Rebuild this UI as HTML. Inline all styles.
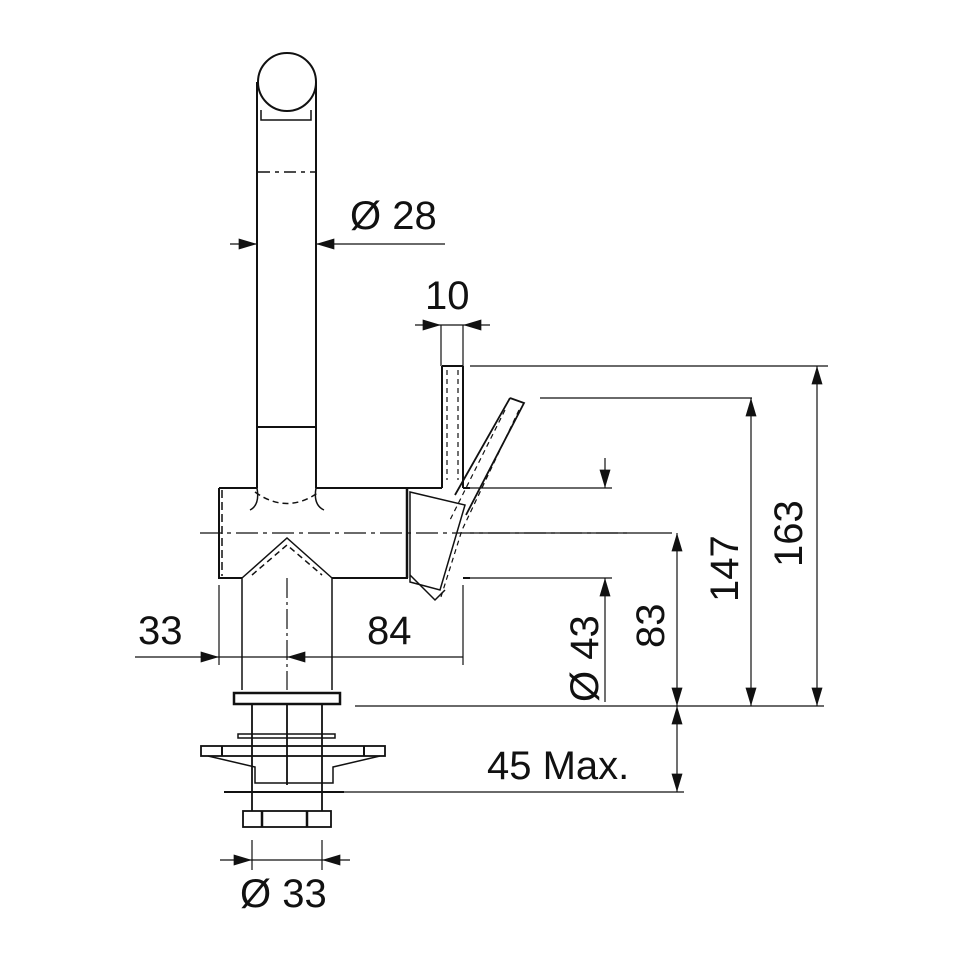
<!DOCTYPE html><html><head><style>body{margin:0;background:#fff}svg{display:block}text{font-family:"Liberation Sans",sans-serif;fill:#111}</style></head><body>
<svg width="960" height="960" viewBox="0 0 960 960" xmlns="http://www.w3.org/2000/svg">
<defs><marker id="a" viewBox="0 0 10 6" refX="10" refY="3" markerWidth="26" markerHeight="11" markerUnits="userSpaceOnUse" orient="auto"><path d="M0,0L10,3L0,6z" fill="#111"/></marker></defs>
<g stroke="#111" stroke-width="2" fill="none">
<circle cx="287" cy="82" r="29"/>
<path d="M257,82V488M316,82V488"/>
<path d="M261,110V120H311V110" stroke-width="1.5"/>
<path d="M258,172H316" stroke-dasharray="12,5,4,5" stroke-width="1.5"/>
<path d="M258,427H316"/>
<path d="M219,488H257M316,488H442M463,488H470M219,488V578H242M332,578H408M463,578H470"/>
<path d="M257,488Q260,505 250,510M316,488Q313,505 324,510" stroke-width="1.5"/>
<path d="M255,492Q287,515 319,492" stroke-dasharray="6,4" stroke-width="1.5"/>
<path d="M222,490V576" stroke-dasharray="8,4" stroke-width="1.5"/>
<path d="M200,533H630" stroke-dasharray="22,5,4,5" stroke-width="1.2"/>
<path d="M242,578L287,538L332,578M242,578V690M332,578V690" stroke-width="1.5"/>
<path d="M252,575L287,545L322,575" stroke-dasharray="6,4" stroke-width="1.5"/>
<path d="M287,578V690" stroke-dasharray="20,4,3,4" stroke-width="1.2"/>
<path d="M407,488V578" stroke-width="2.5"/>
<path d="M410,492L465,505L440,590L410,582Z" stroke-width="1.5"/>
<path d="M410,575L435,600L445,590" stroke-width="1.5"/>
<path d="M442,366V488M463,366V488M442,366H463" stroke-width="2"/>
<path d="M447,370V480M458,370V480" stroke-dasharray="5,4" stroke-width="1.2"/>
<path d="M510,398L524,403L466,515M510,398L455,495" stroke-width="1.8"/>
<path d="M505,410L450,520M519,410L462,530L440,600" stroke-dasharray="5,4" stroke-width="1.2"/>
<rect x="234" y="693" width="106" height="11" stroke-width="2.5"/>
<path d="M252,704V811M322,704V811M287,705V785" stroke-width="1.8"/>
<rect x="238" y="734" width="97" height="4" stroke-width="1.5"/>
<rect x="201" y="746" width="184" height="10" stroke-width="1.8"/>
<path d="M222,746V756M364,746V756" stroke-width="2"/>
<path d="M208,756L255,767V783H333V767L380,756" stroke-width="1.5"/>
<path d="M224,792H344" stroke-width="2"/>
<rect x="243" y="811" width="88" height="16" stroke-width="1.8"/>
<path d="M262,811V827M307,811V827" stroke-width="2.5"/>
</g>
<g stroke="#111" stroke-width="1.2" fill="none">
<path d="M230,244H257" marker-end="url(#a)"/><path d="M445,244H316" marker-end="url(#a)"/>
<path d="M415,325H441" marker-end="url(#a)"/><path d="M490,325H463" marker-end="url(#a)"/><path d="M441,325H463M441,325V366M463,325V366"/>
<path d="M470,366H828M540,398H752M470,488H612M470,533H672M470,578H612M355,706H824M340,792H684"/>
<path d="M219,585V665M463,585V665M252,840V870M322,840V870"/>
<path d="M135,657H219" marker-end="url(#a)"/><path d="M463,657H287" marker-end="url(#a)"/><path d="M287,657H219"/>
<path d="M817,536V366" marker-end="url(#a)"/><path d="M817,536V706" marker-end="url(#a)"/>
<path d="M751,552V398" marker-end="url(#a)"/><path d="M751,552V706" marker-end="url(#a)"/>
<path d="M677,620V533" marker-end="url(#a)"/><path d="M677,620V706" marker-end="url(#a)"/>
<path d="M677,750V706" marker-end="url(#a)"/><path d="M677,750V792" marker-end="url(#a)"/>
<path d="M605,458V488" marker-end="url(#a)"/><path d="M605,702V578" marker-end="url(#a)"/>
<path d="M220,860H252" marker-end="url(#a)"/><path d="M350,860H322" marker-end="url(#a)"/><path d="M252,860H322"/>
</g>
<g font-size="40">
<text x="350" y="229">Ø 28</text>
<text x="425" y="309">10</text>
<text x="138" y="644">33</text>
<text x="367" y="644">84</text>
<text x="487" y="779">45 Max.</text>
<text x="240" y="907">Ø 33</text>
<text transform="translate(598,702) rotate(-90)">Ø 43</text>
<text transform="translate(664,648) rotate(-90)">83</text>
<text transform="translate(738,602) rotate(-90)">147</text>
<text transform="translate(802,567) rotate(-90)">163</text>
</g>
</svg></body></html>
